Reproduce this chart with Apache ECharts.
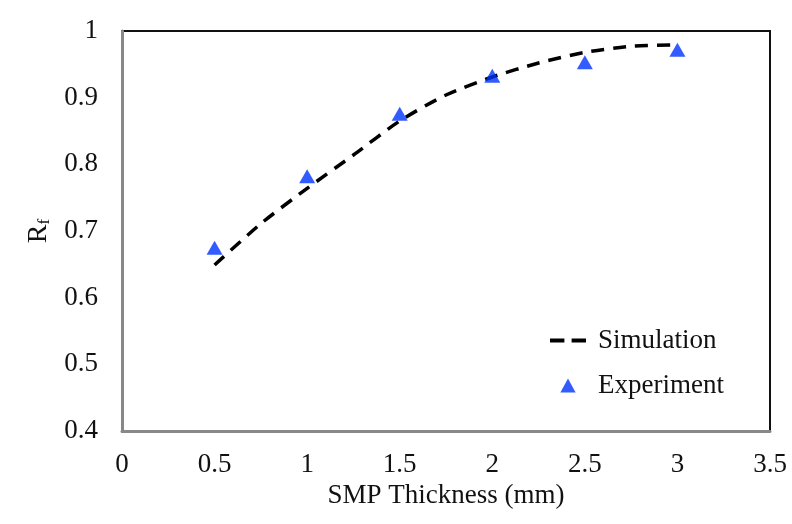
<!DOCTYPE html>
<html>
<head>
<meta charset="utf-8">
<script src="https://cdn.jsdelivr.net/npm/echarts@6/dist/echarts.min.js"></script>
<style>html,body{margin:0;padding:0;background:#fff;}#c{width:792px;height:524px;}</style>
</head>
<body>
<div id="c"></div>
<script>
const simX = [0.5, 0.75, 1.0, 1.25, 1.5, 1.75, 2.0, 2.25, 2.5, 2.75, 3.0];
const simY = [0.649, 0.711, 0.764, 0.814, 0.865, 0.904, 0.931, 0.952, 0.968, 0.977, 0.979];
const expX = [0.5, 1.0, 1.5, 2.0, 2.5, 3.0];
const expY = [0.675, 0.782, 0.876, 0.933, 0.953, 0.972];
const seriesNames = ['Simulation', 'Experiment'];
const xTitle = 'SMP Thickness (mm)';

const font = 'Liberation Serif';
const fs = 27;
const chart = echarts.init(document.getElementById('c'), null, {renderer: 'canvas'});
chart.setOption({
  backgroundColor: '#fff',
  animation: false,
  grid: {left: 122, top: 31, right: 22, bottom: 93, show: true, borderColor: '#111', borderWidth: 2, backgroundColor: 'transparent'},
  xAxis: {
    type: 'value', min: 0, max: 3.5, interval: 0.5,
    axisLine: {show: true, onZero: false, lineStyle: {color: '#888', width: 3}},
    axisTick: {show: false},
    splitLine: {show: false},
    axisLabel: {color: '#111', fontFamily: font, fontSize: fs, margin: 20},
    name: xTitle, nameLocation: 'middle', nameGap: 50,
    nameTextStyle: {color: '#111', fontFamily: font, fontSize: fs}
  },
  yAxis: {
    type: 'value', min: 0.4, max: 1, interval: 0.1,
    axisLine: {show: true, onZero: false, lineStyle: {color: '#888', width: 3}},
    axisTick: {show: false},
    splitLine: {show: false},
    axisLabel: {color: '#111', fontFamily: font, fontSize: fs, margin: 24,
      formatter: v => (Math.round(v * 10) / 10).toString()},
    name: '{a|R}{b|f}', nameLocation: 'middle', nameGap: 67, nameRotate: 90,
    nameTextStyle: {color: '#111', fontFamily: font, fontSize: fs,
      rich: {a: {fontFamily: font, fontSize: 28, color: '#111'}, b: {fontFamily: font, fontSize: 17, color: '#111', padding: [12, 0, 0, 0]}}}
  },
  legend: {
    orient: 'vertical', left: 545, top: 322, itemGap: 18, itemWidth: 36, itemHeight: 14,
    symbolKeepAspect: true,
    textStyle: {color: '#111', fontFamily: font, fontSize: fs, padding: [0, 0, 0, 7]},
    data: [
      {name: seriesNames[0], icon: 'path://M0,0h14v4h-14z M21,0h14v4h-14z', itemStyle: {color: '#000', borderWidth: 0}},
      {name: seriesNames[1], icon: 'path://M6,0L12,11L0,11Z', itemStyle: {color: '#0033ff'}}
    ]
  },
  series: [
    {
      name: seriesNames[0], type: 'line', showSymbol: false, symbol: 'none', smooth: 0.25,
      data: simX.map((x, i) => [x, simY[i]]),
      lineStyle: {color: '#000', width: 3.5, type: [13, 9]},
      itemStyle: {color: '#000'}, z: 2
    },
    {
      name: seriesNames[1], type: 'scatter', symbol: 'triangle', symbolSize: [16, 14],
      data: expX.map((x, i) => [x, expY[i]]),
      itemStyle: {color: '#0033ff'}, z: 3
    }
  ]
});
</script>
</body>
</html>
